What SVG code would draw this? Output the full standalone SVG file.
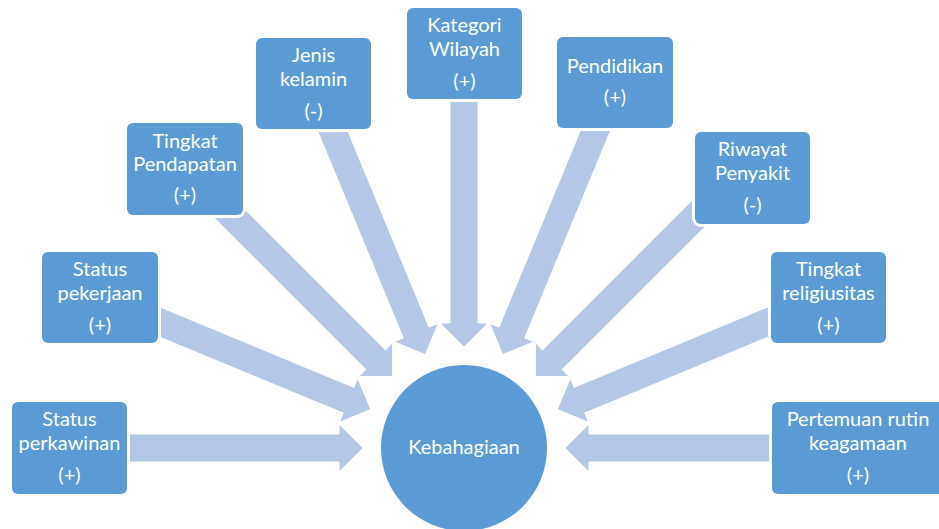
<svg xmlns="http://www.w3.org/2000/svg" width="939" height="529" viewBox="0 0 939 529">
<style>
.arrow{fill:#b4c7e7;stroke:#ffffff;stroke-width:1;stroke-linejoin:miter}
.box{fill:#5b9bd5;stroke:#ffffff;stroke-width:6;paint-order:stroke}
.circ{fill:#5b9bd5}
text{font-family:Lato,"Liberation Sans",sans-serif;font-size:20px;fill:#ffffff;text-anchor:middle}
</style>
<defs>
<polygon id="arr" points="400,-14 125,-14 125,-24 101,0 125,24 125,14 400,14"/>
</defs>
<rect width="939" height="529" fill="#ffffff"/>
<g id="connectors">
<use href="#arr" class="arrow" transform="translate(464 448) rotate(180)"/>
<use href="#arr" class="arrow" transform="translate(464 448) rotate(-157.5)"/>
<use href="#arr" class="arrow" transform="translate(464 448) rotate(-135)"/>
<use href="#arr" class="arrow" transform="translate(464 448) rotate(-112.5)"/>
<use href="#arr" class="arrow" transform="translate(464 448) rotate(-90)"/>
<use href="#arr" class="arrow" transform="translate(464 448) rotate(-67.5)"/>
<use href="#arr" class="arrow" transform="translate(464 448) rotate(-45)"/>
<use href="#arr" class="arrow" transform="translate(464 448) rotate(-22.5)"/>
<use href="#arr" class="arrow" transform="translate(464 448) rotate(0)"/>
</g>
<g id="center">
<circle class="circ" cx="464" cy="448" r="83"/>
<text x="464" y="454">Kebahagiaan</text>
</g>
<g id="status-perkawinan">
<rect class="box" x="12" y="402" width="115" height="92" rx="6"/>
<text x="69.5" y="426">Status</text>
<text x="69.5" y="450">perkawinan</text>
<text x="69.5" y="482">(+)</text>
</g>
<g id="status-pekerjaan">
<rect class="box" x="42" y="252" width="116" height="91" rx="6"/>
<text x="100" y="276">Status</text>
<text x="100" y="300">pekerjaan</text>
<text x="100" y="332">(+)</text>
</g>
<g id="tingkat-pendapatan">
<rect class="box" x="127" y="123" width="116" height="92" rx="6"/>
<text x="185" y="148">Tingkat</text>
<text x="185" y="171">Pendapatan</text>
<text x="185" y="202">(+)</text>
</g>
<g id="jenis-kelamin">
<rect class="box" x="256" y="38" width="115" height="91" rx="6"/>
<text x="313.5" y="62">Jenis</text>
<text x="313.5" y="86">kelamin</text>
<text x="313.5" y="118">(-)</text>
</g>
<g id="kategori-wilayah">
<rect class="box" x="407" y="8" width="115" height="91" rx="6"/>
<text x="464.5" y="32">Kategori</text>
<text x="464.5" y="56">Wilayah</text>
<text x="464.5" y="88">(+)</text>
</g>
<g id="pendidikan">
<rect class="box" x="557" y="37" width="116" height="91" rx="6"/>
<text x="615" y="73">Pendidikan</text>
<text x="615" y="104">(+)</text>
</g>
<g id="riwayat-penyakit">
<rect class="box" x="695" y="132" width="115" height="92" rx="6"/>
<text x="752.5" y="156">Riwayat</text>
<text x="752.5" y="180">Penyakit</text>
<text x="752.5" y="212">(-)</text>
</g>
<g id="tingkat-religiusitas">
<rect class="box" x="771" y="252" width="115" height="91" rx="6"/>
<text x="828.5" y="276">Tingkat</text>
<text x="828.5" y="300">religiusitas</text>
<text x="828.5" y="332">(+)</text>
</g>
<g id="pertemuan-rutin">
<rect class="box" x="772" y="402" width="172" height="92" rx="6"/>
<text x="858" y="426">Pertemuan rutin</text>
<text x="858" y="450">keagamaan</text>
<text x="858" y="482">(+)</text>
</g>
</svg>
